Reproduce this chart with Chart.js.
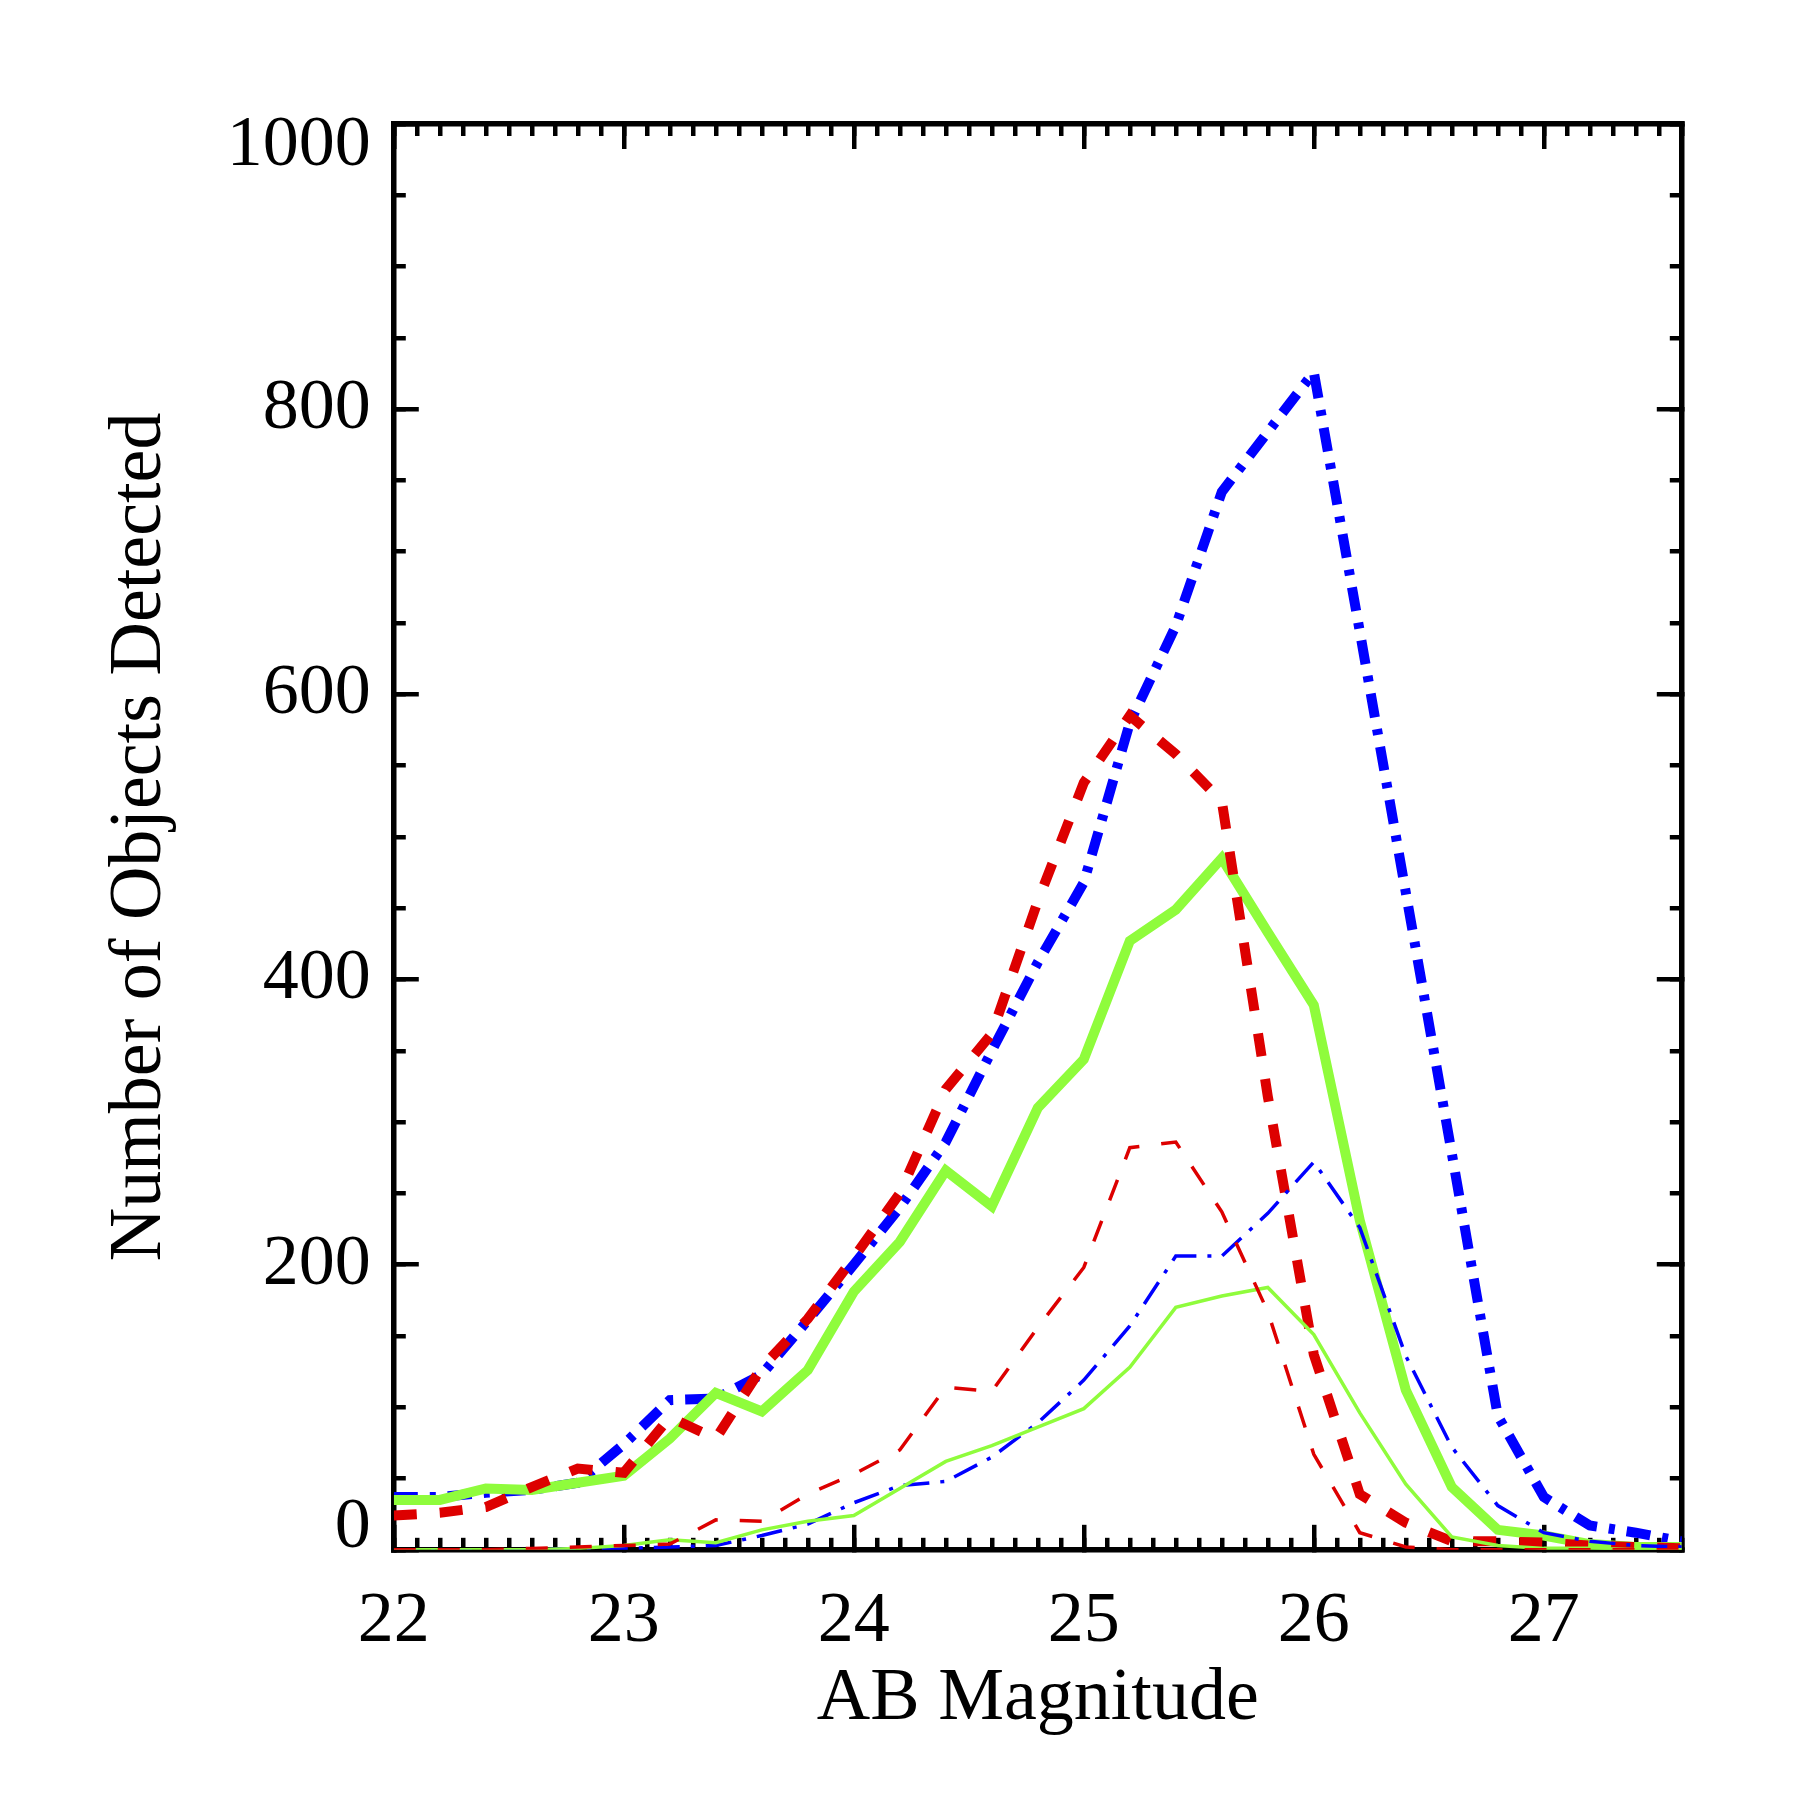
<!DOCTYPE html>
<html>
<head>
<meta charset="utf-8">
<script src="https://cdn.jsdelivr.net/npm/chart.js@4.4.1/dist/chart.umd.min.js"></script>
<style>
  html, body { margin: 0; padding: 0; background: #ffffff; }
  canvas { display: block; }
</style>
</head>
<body>
<canvas id="chart" width="1800" height="1800"></canvas>
<script>
// ---------------- data ----------------
const magnitudes = [22.0, 22.2, 22.4, 22.6, 22.8, 23.0, 23.2, 23.4, 23.6, 23.8,
                    24.0, 24.2, 24.4, 24.6, 24.8, 25.0, 25.2, 25.4, 25.6, 25.8,
                    26.0, 26.2, 26.4, 26.6, 26.8, 27.0, 27.2, 27.4, 27.6];

const thickBlue  = [37, 37, 40, 42, 47, 74, 105, 106, 123, 161,
                    200, 240, 286, 350, 412, 468, 580, 648, 742, 784,
                    826, 644, 461, 278, 94, 37, 17, 12, 6];
const thickGreen = [35, 35, 43, 42, 47, 52, 78, 110, 97, 126,
                    181, 216, 266, 241, 310, 344, 427, 449, 485, 433,
                    382, 231, 112, 44, 14, 10, 4, 2, 2];
const thickRed   = [24, 26, 30, 44, 57, 54, 93, 78, 128, 162,
                    205, 250, 323, 362, 455, 538, 585, 558, 525, 318,
                    137, 39, 19, 6, 6, 5, 3, 2, 1];
const thinBlue   = [0, 0, 0, 0, 1, 1, 2, 3, 10, 18,
                    33, 45, 48, 65, 89, 119, 157, 206, 206, 236,
                    272, 226, 136, 72, 31, 12, 6, 3, 2];
const thinGreen  = [0, 0, 0, 0, 1, 3, 7, 5, 14, 20,
                    24, 43, 62, 73, 86, 99, 128, 170, 178, 184,
                    151, 96, 46, 9, 3, 1, 1, 0, 0];
const thinRed    = [0, 0, 0, 1, 2, 3, 4, 21, 20, 39,
                    53, 70, 114, 111, 156, 198, 282, 286, 237, 167,
                    67, 12, 2, 0, 0, 0, 0, 0, 0];

const xMin = 22, xMax = 27.6, xMajorStep = 1, xMinorStep = 0.1;
const yMin = 0, yMax = 1000, yMajorStep = 200, yMinorStep = 50;
const xTitle = 'AB Magnitude';
const yTitle = 'Number of Objects Detected';

// ---------------- styles / layout ----------------
const FONT = "'Liberation Serif', 'Times New Roman', Times, serif";
const BLUE = '#0000ff', RED = '#dd0000', GREEN = '#8ffc3c';
const PAD = { left: 393.8, right: 118.2, top: 124, bottom: 250.2 };
const MAJOR_LEN = 25, MINOR_LEN = 12, TICK_W = 4.5, AXIS_W = 5.5;

const pts = arr => magnitudes.map((m, i) => ({ x: m, y: arr[i] }));

function line(data, color, width, dash, order) {
  return {
    data: pts(data), borderColor: color, borderWidth: width, borderDash: dash,
    borderCapStyle: 'butt', borderJoinStyle: 'miter', pointRadius: 0,
    tension: 0, fill: false, order: order, xAxisID: 'x', yAxisID: 'y'
  };
}

function tickAxis(position, axis, min, max, step, len, opts) {
  opts = opts || {};
  const horizontal = (position === 'top' || position === 'bottom');
  return {
    type: 'linear', position: position, axis: axis, min: min, max: max,
    weight: opts.weight || 0,
    grid: { display: true, drawOnChartArea: false, drawTicks: true,
            tickLength: -len, tickWidth: TICK_W, tickColor: '#000', color: '#000', lineWidth: TICK_W },
    border: { display: !!opts.border, color: '#000', width: AXIS_W },
    ticks: Object.assign({ display: false, stepSize: step, includeBounds: false,
                           autoSkip: false, maxTicksLimit: 1000, maxRotation: 0, minRotation: 0 }, opts.ticks || {}),
    title: opts.title || { display: false },
    afterFit: s => { if (horizontal) s.height = opts.size || 0; else s.width = opts.size || 0; }
  };
}

const cfg = {
  type: 'line',
  data: {
    datasets: [
      line(thickBlue, BLUE, 10, [24, 12, 6, 12], 6),
      line(thickGreen, GREEN, 10, [], 5),
      line(thickRed, RED, 10, [23, 23], 4),
      line(thinBlue, BLUE, 3.5, [26, 11, 4, 11], 3),
      line(thinGreen, GREEN, 3.5, [], 2),
      line(thinRed, RED, 3.5, [22, 22], 1)
    ]
  },
  options: {
    responsive: false, animation: false, devicePixelRatio: 1,
    layout: { padding: 0 },
    plugins: { legend: { display: false }, tooltip: { enabled: false } },
    scales: {
      x: tickAxis('bottom', 'x', xMin, xMax, xMajorStep, MAJOR_LEN, {
        weight: 1, border: true, size: PAD.bottom,
        ticks: { display: true, color: '#000', padding: 54,
                 font: { family: FONT, size: 72, lineHeight: 1.2 },
                 callback: v => String(v) },
        title: { display: true, text: xTitle, color: '#000',
                 font: { family: FONT, size: 74, lineHeight: 1.2 },
                 padding: { top: 0, bottom: 56 } }
      }),
      xMinor: tickAxis('bottom', 'x', xMin, xMax, xMinorStep, MINOR_LEN),
      xTop: tickAxis('top', 'x', xMin, xMax, xMajorStep, MAJOR_LEN, { weight: 1, border: true, size: PAD.top }),
      xTopMinor: tickAxis('top', 'x', xMin, xMax, xMinorStep, MINOR_LEN),
      y: tickAxis('left', 'y', yMin, yMax, yMajorStep, MAJOR_LEN, {
        weight: 1, border: true, size: PAD.left,
        ticks: { display: true, color: '#000', padding: 48,
                 font: { family: FONT, size: 72, lineHeight: 0.6 },
                 callback: v => v === yMax ? ['', String(v)] : (v === yMin ? [String(v), ''] : String(v)) },
        title: { display: true, text: yTitle, color: '#000',
                 font: { family: FONT, size: 74, lineHeight: 1.2 },
                 padding: { top: 96, bottom: 0 } }
      }),
      yMinor: tickAxis('left', 'y', yMin, yMax, yMinorStep, MINOR_LEN),
      yRight: tickAxis('right', 'y', yMin, yMax, yMajorStep, MAJOR_LEN, { weight: 1, border: true, size: PAD.right }),
      yRightMinor: tickAxis('right', 'y', yMin, yMax, yMinorStep, MINOR_LEN)
    }
  }
};

new Chart(document.getElementById('chart').getContext('2d'), cfg);
</script>
</body>
</html>
